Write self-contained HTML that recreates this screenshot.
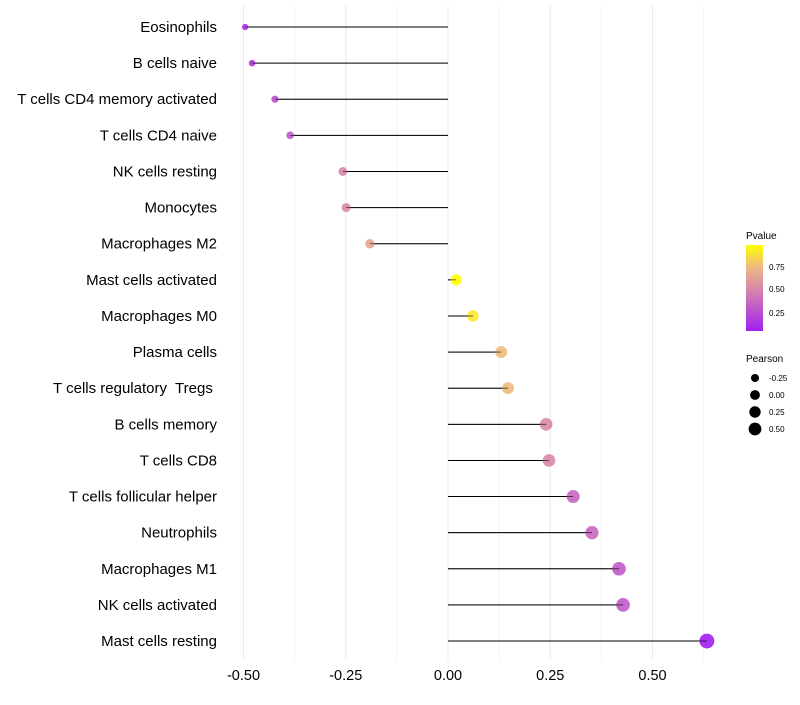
<!DOCTYPE html>
<html><head><meta charset="utf-8"><style>
body{margin:0;background:#fff;font-family:"Liberation Sans",sans-serif}
text{white-space:pre}
</style></head><body>
<svg id="chart" width="800" height="700" xmlns="http://www.w3.org/2000/svg">
<defs><linearGradient id="pg" x1="0" y1="1" x2="0" y2="0">
<stop offset="0" stop-color="#a020f0"/><stop offset="0.5" stop-color="#d98aa8"/><stop offset="0.75" stop-color="#eebb80"/><stop offset="1" stop-color="#ffff00"/></linearGradient></defs>
<g id="grid"></g><g id="marks"></g><g id="labels"></g><g id="xticks"></g>
<g>
<text x="746" y="239" font-size="10" fill="#000">Pvalue</text>
<rect x="746" y="245" width="17" height="86" fill="url(#pg)"/>
<text x="769" y="270" font-size="8">0.75</text><text x="769" y="292" font-size="8">0.50</text><text x="769" y="316" font-size="8">0.25</text>
</g>
<g id="sizeLegend">
<text x="746" y="362" font-size="10">Pearson</text>
</g>
</svg>
<script>
const categories=["Eosinophils","B cells naive","T cells CD4 memory activated","T cells CD4 naive","NK cells resting","Monocytes","Macrophages M2","Mast cells activated","Macrophages M0","Plasma cells","T cells regulatory  Tregs ","B cells memory","T cells CD8","T cells follicular helper","Neutrophils","Macrophages M1","NK cells activated","Mast cells resting"];
const pearson=[-0.496,-0.479,-0.423,-0.386,-0.257,-0.249,-0.191,0.020,0.061,0.130,0.147,0.240,0.247,0.306,0.352,0.418,0.428,0.633];
const pvalue=[0.12,0.15,0.25,0.3,0.5,0.5,0.65,0.98,0.9,0.75,0.75,0.5,0.5,0.35,0.35,0.3,0.3,0.04];
const xTicks=[-0.5,-0.25,0,0.25,0.5];
const xTickLabels=["-0.50","-0.25","0.00","0.25","0.50"];
const sizeTicks=[-0.25,0,0.25,0.5];
const sizeTickLabels=["-0.25","0.00","0.25","0.50"];
const NS="http://www.w3.org/2000/svg";
const X=v=>448+v*409;
const Y=i=>27+i*36.12;
const R=v=>Math.sqrt(Math.max(3,30+40*v));
function lerp(a,b,t){return a.map((x,k)=>Math.round(x+(b[k]-x)*t));}
const stops=[[0,[160,32,240]],[0.5,[217,138,168]],[0.75,[238,187,128]],[1,[255,255,0]]];
function col(p){const t=Math.min(1,Math.max(0,(p-0.04)/0.94));for(let k=1;k<stops.length;k++){if(t<=stops[k][0]){const a=stops[k-1],b=stops[k];const c=lerp(a[1],b[1],(t-a[0])/(b[0]-a[0]));return `rgb(${c.join(',')})`;}}return "#ff0";}
function mk(tag,attrs,parent){const e=document.createElementNS(NS,tag);for(const k in attrs)e.setAttribute(k,attrs[k]);parent.appendChild(e);return e;}
const grid=document.getElementById('grid'),marks=document.getElementById('marks'),labels=document.getElementById('labels'),xt=document.getElementById('xticks'),sl=document.getElementById('sizeLegend');
for(let v=-0.5;v<=0.625;v+=0.125){const g=mk('line',{x1:X(v),x2:X(v),y1:5,y2:660,stroke:Math.abs((v*4)%1)<1e-6?'#ebebeb':'#f4f4f4','stroke-width':1},grid);

}
xTicks.forEach((v,i)=>{const t=mk('text',{x:X(v),y:680,'font-size':14.5,'text-anchor':'middle',fill:'#000'},xt);t.textContent=xTickLabels[i];

});
categories.forEach((c,i)=>{
const l=mk('text',{x:217,y:Y(i)+5,'font-size':15,'text-anchor':'end',fill:'#000'},labels);l.textContent=c;


const s=mk('line',{x1:X(0),x2:X(pearson[i]),y1:Y(i),y2:Y(i),stroke:'#000','stroke-width':1},marks);


const p=mk('circle',{cx:X(pearson[i]),cy:Y(i),r:R(pearson[i]),fill:col(pvalue[i]),'fill-opacity':0.9},marks);


const s2=mk('line',{x1:X(0),x2:X(pearson[i]),y1:Y(i),y2:Y(i),stroke:'#000','stroke-width':0.8,'stroke-opacity':0.6},marks);


});
sizeTicks.forEach((v,i)=>{const y=378+i*17;
const c=mk('circle',{cx:755,cy:y,r:R(v)*0.9,fill:'#000'},sl);


const t=mk('text',{x:769,y:y+3,'font-size':8},sl);t.textContent=sizeTickLabels[i];

});
</script>
</body></html>
